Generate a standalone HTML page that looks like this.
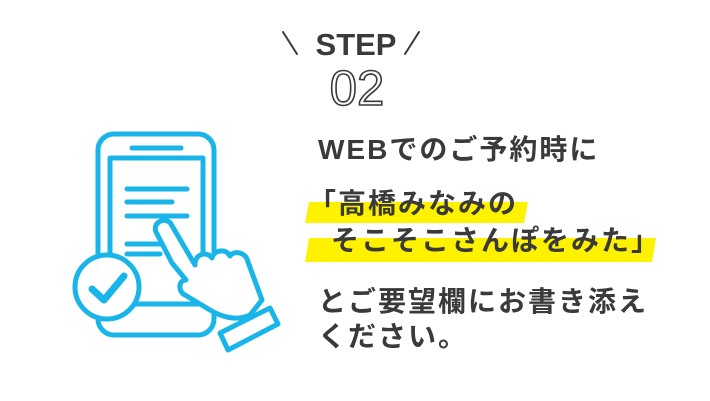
<!DOCTYPE html>
<html><head><meta charset="utf-8"><style>
html,body{margin:0;padding:0;background:#fff;}
body{width:710px;height:401px;position:relative;overflow:hidden;font-family:"Liberation Sans","Noto Sans CJK JP",sans-serif;color:#3a3a3a;}
.t{position:absolute;font-weight:bold;white-space:nowrap;font-size:28px;letter-spacing:2px;line-height:1;}
</style></head><body>
<svg width="710" height="401" style="position:absolute;left:0;top:0">
 <g stroke="#3a3a3a" stroke-width="2" stroke-linecap="round">
  <line x1="283" y1="32" x2="297" y2="54"/><line x1="419" y1="32" x2="405" y2="54"/>
 </g>
 <text x="356" y="55" text-anchor="middle" font-family="Liberation Sans" font-weight="bold" font-size="31" fill="#3a3a3a">STEP</text>
 <text x="357" y="105" text-anchor="middle" font-family="Liberation Sans" font-size="49" fill="none" stroke="#3a3a3a" stroke-width="1.6">02</text>
 <polygon points="309,202 528,202 524,223 305,223" fill="#fff200"/>
 <polygon points="309,238 656,238 652,262 305,262" fill="#fff200"/>
 <g fill="none" stroke="#1ab5e8" stroke-width="5" stroke-linecap="round" stroke-linejoin="round">
  <rect x="98" y="134" width="116" height="201" rx="16" fill="#fff"/>
  <line x1="132" y1="148" x2="181" y2="148"/>
  <rect x="110" y="158" width="93" height="146"/>
  <line x1="127" y1="189" x2="187" y2="189"/>
  <line x1="127" y1="202" x2="172" y2="202"/>
  <line x1="127" y1="216" x2="187" y2="216"/>
  <line x1="127" y1="244" x2="160" y2="244"/>
  <line x1="127" y1="254" x2="160" y2="254"/>
  <circle cx="107" cy="287" r="32" fill="#fff"/>
  <polyline points="92,289 104,300 124,276" stroke-width="7"/>
  <path d="M172,263 L156,232 C152,222 166,216 171,224 L195,265 C194,255 206,250 212,258 C214,250 226,248 230,256 C234,250 246,252 248,262 L262,300 L250,315 C236,322 220,316 210,310 L185,295 C178,292 178,280 186,280 Z" fill="#fff"/>
  <polygon points="220,333 270,308 278,324 228,350" fill="#fff"/>
 </g>
</svg>
<div class="t" style="left:318px;top:136px">WEBでのご予約時に</div>
<div class="t" style="left:308px;top:190px">「高橋みなみの</div>
<div class="t" style="left:331px;top:227px">そこそこさんぽをみた」</div>
<div class="t" style="left:318px;top:288px">とご要望欄にお書き添え</div>
<div class="t" style="left:318px;top:323px">ください。</div>
</body></html>
